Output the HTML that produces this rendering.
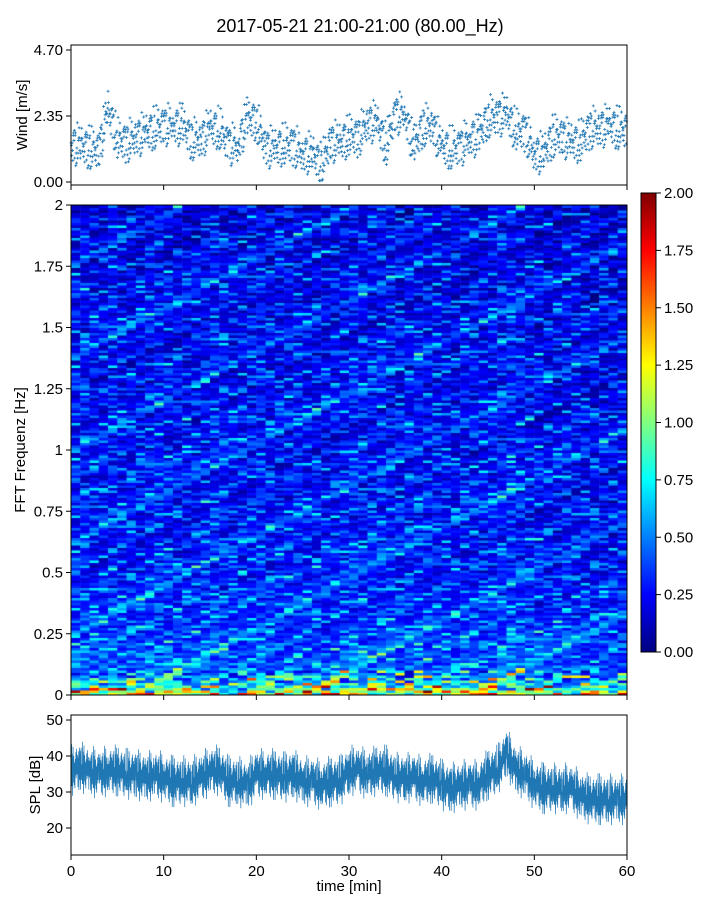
<!DOCTYPE html>
<html><head><meta charset="utf-8">
<style>
body{margin:0;background:#fff;}
#wrap{position:relative;width:720px;height:900px;font-family:"Liberation Sans",sans-serif;}
canvas{position:absolute;left:71px;top:205px;}
svg{position:absolute;left:0;top:0;}
text{font-family:"Liberation Sans",sans-serif;fill:#000;}
</style></head>
<body>
<div id="wrap">
<canvas id="spec" width="556" height="490"></canvas>
<svg id="svg" width="720" height="900"></svg>
</div>
<script>
// ---- data ----
const windMean=[1.3,1.3,1.2,1.1,2.6,1.5,1.4,1.6,1.7,1.9,2.0,2.0,2.0,1.5,1.5,1.9,1.9,1.3,1.3,2.2,2.2,1.2,1.2,1.3,1.3,1.0,1.0,0.6,1.4,1.4,1.6,1.6,2.1,2.1,1.3,2.4,2.4,1.2,2.0,2.0,1.2,1.2,1.2,1.6,1.6,2.3,2.3,2.4,1.8,1.8,1.0,1.0,1.6,1.6,1.4,1.4,1.9,1.9,2.0,1.9,1.8];
const windOffsets=[0.1,-0.5,0.4,-0.2,0.7,-0.7,0.2,0.0,-0.3,0.5,-0.6,0.3,-0.1,0.6,-0.4,0.2,-0.8,0.4,-0.2,0.9,-0.5,0.1,0.3,-0.3,0.5];
const splMean=[36,37,36,35,36,36,35,35,34,35,34,33,33,33,34,36,36,33,33,32,35,35,35,34,35,33,33,32,33,33,36,36,35,36,36,34,34,34,33,34,32,31,32,32,32,35,36,41,36,35,32,31,31,31,31,29,28,28,28,28,28];
const splOffsets=[0,4,-3,5,-5,2,-2,6,-4,3,-6,1,4,-1,-7,5,-3,2,-4,7,-2,3,-5,0,6,-3,2,-6,4,-1,-4,5,-2,8,-5,1,3,-8,2,-1];
const freqProfile=[0.95,0.55,0.42,0.38,0.36,0.33,0.31,0.29,0.28,0.27,0.26,0.25,0.25,0.24,0.24,0.24,0.23,0.23,0.23,0.23,0.22,0.22,0.22,0.22,0.22,0.21,0.21,0.21,0.21,0.21,0.2,0.2,0.2,0.19,0.19,0.18,0.18,0.17,0.17,0.16,0.16];
const timeProfile=[0.02,0.02,0.0,0.0,0.03,0.01,0.0,0.0,0.02,0.03,0.01,0.0,-0.01,0.0,0.02,0.04,0.02,0.0,0.0,0.01,0.02,0.0,0.0,0.0,0.02,0.0,0.0,-0.02,0.0,0.01,0.03,0.02,0.01,0.03,0.02,0.0,0.01,0.02,0.0,0.0,-0.01,-0.02,0.0,0.0,0.0,0.02,0.03,0.05,0.02,0.0,-0.01,-0.02,-0.02,0.0,-0.01,-0.02,-0.03,-0.02,-0.02,-0.02,-0.02];
const streak=[0.0,0.15,-0.1,0.35,-0.05,0.05,-0.12,0.22,0.4,-0.08,0.1,-0.15,0.0,0.28,-0.1,0.05,0.5,-0.05,0.12,-0.14,0.08,0.18,-0.1,0.0,0.32,-0.07,0.03,-0.13,0.2,0.6,-0.1,0.07,-0.16,0.02,-0.11,0.09,-0.06];
const windTicks=[0,2.35,4.7], windTickLabels=["0.00","2.35","4.70"];
const freqTicks=[0,0.25,0.5,0.75,1,1.25,1.5,1.75,2], freqTickLabels=["0","0.25","0.5","0.75","1","1.25","1.5","1.75","2"];
const splTicks=[20,30,40,50];
const timeTicks=[0,10,20,30,40,50,60];
const cbTicks=[0,0.25,0.5,0.75,1,1.25,1.5,1.75,2], cbLabels=["0.00","0.25","0.50","0.75","1.00","1.25","1.50","1.75","2.00"];

// ---- scales ----
const X0=71,X1=627;
const xT=t=>X0+(X1-X0)*t/60;
const yW=v=>182-(182-50)*v/4.7;
const yF=f=>695-490*f/2;
const yS=v=>720+(50-v)*3.6;
const yCB=v=>652-459*v/2;
const interp=(arr,t)=>{const i=Math.floor(t),f=t-i;const a=arr[Math.min(i,arr.length-1)],b=arr[Math.min(i+1,arr.length-1)];return a+(b-a)*f;};
function jet(t){t=Math.max(0,Math.min(1,t));const c=x=>Math.round(255*Math.max(0,Math.min(1,1.5-Math.abs(x))));return `rgb(${c(4*t-3)},${c(4*t-2)},${c(4*t-1)})`;}

const svg=document.getElementById('svg');const NS="http://www.w3.org/2000/svg";
function el(tag,attrs,parent){const e=document.createElementNS(NS,tag);for(const k in attrs)e.setAttribute(k,attrs[k]);(parent||svg).appendChild(e);return e;}
function txt(x,y,s,anchor,size,parent){const t=el('text',{x:x,y:y,'text-anchor':anchor,'font-size':size},parent);t.textContent=s;return t;}

// ---- spectrogram ----
const ctx=document.getElementById('spec').getContext('2d');
const NC=60,NR=196,cw=556/NC,rh=490/NR;
const L=streak.length;
for(let c=0;c<NC;c++){const t=c*60/NC;for(let r=0;r<NR;r++){const f=r*2/NR;
 const s=streak[(r*7+c*3+((r*c)%5))%L]+0.6*streak[(r*13+c*11)%L];
 let v=interp(freqProfile,f*20)+interp(timeProfile,t)+s*(r<10?1.5:0.75);
 if(r<3) v+=streak[(c*5+r*3)%L]*1.2;
 ctx.fillStyle=jet(v/2);ctx.fillRect(c*cw,490-(r+1)*rh,cw+0.5,rh+0.5);}}

// ---- title ----
const title=txt(360,32,"2017-05-21 21:00-21:00 (80.00_Hz)","middle",18);


// ---- wind panel ----
const gW=el('g',{});
for(let i=0;i<60;i++){for(let k=0;k<windOffsets.length;k++){const t=i+k/windOffsets.length;
 const v=Math.max(0.05,interp(windMean,t)+windOffsets[(k*7+i)%windOffsets.length]*0.9);
 const x=xT(t),y=yW(v);
 const p=el('path',{d:`M${x-1.5},${y}h3M${x},${y-1.5}v3`,stroke:'#1f77b4','stroke-width':0.8},gW);
 }}
el('rect',{x:71,y:45,width:556,height:140,fill:'none',stroke:'#000','stroke-width':1},gW);
windTicks.forEach((v,i)=>{el('line',{x1:66,x2:71,y1:yW(v),y2:yW(v),stroke:'#000'},gW);txt(63,yW(v)+5,windTickLabels[i],'end',15,gW);});
timeTicks.forEach(t=>el('line',{x1:xT(t),x2:xT(t),y1:185,y2:190,stroke:'#000'},gW));
const wl=txt(0,0,"Wind [m/s]","middle",15,gW);wl.setAttribute('transform','translate(27,115) rotate(-90)');


// ---- spectrogram axes ----
const gF=el('g',{});
el('rect',{x:71,y:205,width:556,height:490,fill:'none',stroke:'#000'},gF);
freqTicks.forEach((f,i)=>{el('line',{x1:66,x2:71,y1:yF(f),y2:yF(f),stroke:'#000'},gF);txt(63,yF(f)+5,freqTickLabels[i],'end',15,gF);});
timeTicks.forEach(t=>el('line',{x1:xT(t),x2:xT(t),y1:695,y2:700,stroke:'#000'},gF));
const fl=txt(0,0,"FFT Frequenz [Hz]","middle",15,gF);fl.setAttribute('transform','translate(25,450) rotate(-90)');


// ---- colorbar ----
const gC=el('g',{});
const defs=el('defs',{});const lg=el('linearGradient',{id:'jetg',x1:0,y1:1,x2:0,y2:0},defs);
for(let i=0;i<=8;i++)el('stop',{offset:i/8,'stop-color':jet(i/8)},lg);
el('rect',{x:641,y:193,width:15,height:459,fill:'url(#jetg)',stroke:'#000'},gC);
cbTicks.forEach((v,i)=>{el('line',{x1:656,x2:661,y1:yCB(v),y2:yCB(v),stroke:'#000'},gC);txt(664,yCB(v)+5,cbLabels[i],'start',15,gC);});

// ---- SPL panel ----
const gS=el('g',{});
let pts=[];for(let i=0;i<60;i++){for(let k=0;k<splOffsets.length;k++){const t=i+k/splOffsets.length;
 const v=interp(splMean,t)+splOffsets[(k*11+i*3)%splOffsets.length]*0.9;pts.push(xT(t).toFixed(2)+','+yS(v).toFixed(1));}}
const sl=el('polyline',{points:pts.join(' '),fill:'none',stroke:'#1f77b4','stroke-width':0.7},gS);

el('rect',{x:71,y:715,width:556,height:140,fill:'none',stroke:'#000'},gS);
splTicks.forEach(v=>{el('line',{x1:66,x2:71,y1:yS(v),y2:yS(v),stroke:'#000'},gS);txt(63,yS(v)+5,String(v),'end',15,gS);});
timeTicks.forEach(t=>{el('line',{x1:xT(t),x2:xT(t),y1:855,y2:860,stroke:'#000'},gS);txt(xT(t),876,String(t),'middle',15,gS);});
const spl=txt(0,0,"SPL [dB]","middle",15,gS);spl.setAttribute('transform','translate(40,785) rotate(-90)');

const xl=txt(349,891,"time [min]","middle",15,gS);

</script>
</body></html>
